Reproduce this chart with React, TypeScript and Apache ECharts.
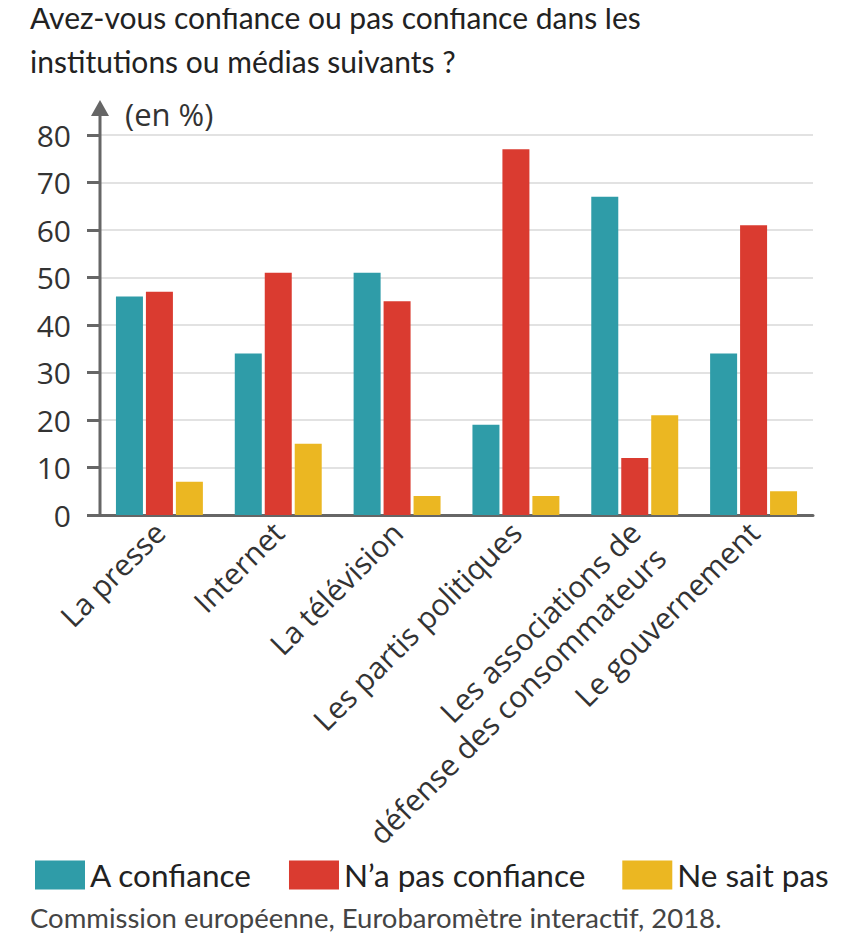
import React, { useEffect, useRef } from "react";
import * as echarts from "echarts";

const categories = [
  "La presse",
  "Internet",
  "La télévision",
  "Les partis politiques",
  "Les associations de\ndéfense des consommateurs",
  "Le gouvernement",
];
const seriesNames = ["A confiance", "N’a pas confiance", "Ne sait pas"];
const aConfiance = [46, 34, 51, 19, 67, 34];
const pasConfiance = [47, 51, 45, 77, 12, 61];
const neSaitPas = [7, 15, 4, 4, 21, 5];
const colors = ["#2F9CA8", "#DA3B30", "#EBB722"];

const titleLines = [
  "Avez-vous confiance ou pas confiance dans les",
  "institutions ou médias suivants ?",
];
const unitLabel = "(en %)";
const sourceText = "Commission européenne, Eurobaromètre interactif, 2018.";

const GRID_LEFT = 100;
const GRID_TOP = 135;
const GRID_BOTTOM_Y = 515;
const W = 867;
const H = 940;
const LABEL_LH = 36;

export default function App() {
  const ref = useRef<HTMLDivElement>(null);
  useEffect(() => {
    if (!ref.current) return;
    const chart = echarts.init(ref.current, null, { renderer: "svg" });
    const txt = "#333333";
    const axisCol = "#666666";
    const font = "'Open Sans', sans-serif";
    const titleFont = "Lato, sans-serif";
    const data = [aConfiance, pasConfiance, neSaitPas];
    chart.setOption({
      animation: false,
      title: titleLines.map((t, i) => ({
        text: t,
        left: 30,
        top: 2 + i * 44,
        padding: 0,
        textStyle: {
          fontFamily: titleFont,
          fontSize: 30,
          fontWeight: "normal",
          color: "#222",
        },
      })),
      legend: {
        bottom: 44,
        left: 30,
        itemWidth: 50,
        itemHeight: 29,
        itemGap: 37,
        icon: "rect",
        textStyle: { fontFamily: titleFont, fontSize: 31.5, color: "#222" },
        data: seriesNames,
      },
      grid: {
        left: GRID_LEFT,
        top: GRID_TOP,
        right: 54,
        bottom: H - GRID_BOTTOM_Y,
        containLabel: false,
      },
      xAxis: {
        type: "category",
        data: categories,
        axisLine: { show: true, lineStyle: { color: axisCol, width: 3 } },
        axisTick: { show: false },
        axisLabel: {
          rotate: 45,
          interval: 0,
          margin: 12,
          fontFamily: font,
          fontSize: 30,
          color: txt,
          lineHeight: LABEL_LH,
          // multi-line labels: keep first line aligned like single-line labels
          formatter: (v: string) => {
            const n = v.split("\n").length;
            return n > 1 ? "\n".repeat(n - 1) + v : v;
          },
        },
      },
      yAxis: {
        type: "value",
        min: 0,
        max: 80,
        interval: 10,
        axisLine: { show: false },
        axisTick: { show: true, length: 13, lineStyle: { color: axisCol, width: 3 } },
        splitLine: { show: true, lineStyle: { color: "#e2e2e2", width: 2 } },
        axisLabel: { fontFamily: font, fontSize: 30, color: txt, margin: 29 },
      },
      series: seriesNames.map((name, i) => ({
        name,
        type: "bar",
        data: data[i],
        barWidth: 27,
        barGap: "11%",
        itemStyle: { color: colors[i] },
      })),
      graphic: [
        {
          type: "line",
          shape: { x1: GRID_LEFT, y1: GRID_BOTTOM_Y, x2: GRID_LEFT, y2: 112 },
          style: { stroke: axisCol, lineWidth: 3 },
          z: 10,
        },
        {
          type: "polygon",
          shape: { points: [[GRID_LEFT - 9, 116], [GRID_LEFT + 9, 116], [GRID_LEFT, 100]] },
          style: { fill: axisCol },
          z: 10,
        },
        {
          type: "text",
          left: 125,
          top: 98,
          style: { text: unitLabel, font: `31px ${font}`, fill: txt },
        },
        {
          type: "text",
          left: 30,
          top: 903,
          style: { text: sourceText, font: `27.5px ${titleFont}`, fill: "#444" },
        },
      ],
    });
    return () => chart.dispose();
  }, []);
  return <div ref={ref} style={{ width: W, height: H, marginLeft: -8, marginTop: -8 }} />;
}
